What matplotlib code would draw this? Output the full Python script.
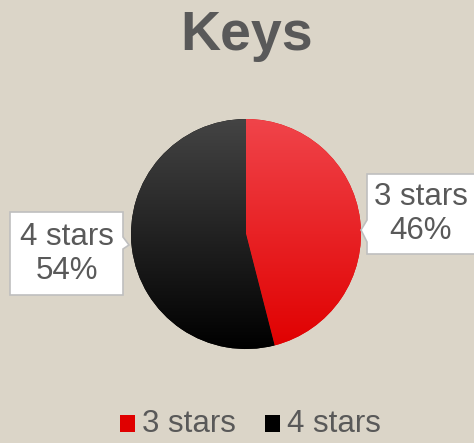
import numpy as np
import matplotlib
matplotlib.use("Agg")
import matplotlib.pyplot as plt
from matplotlib.colors import LinearSegmentedColormap
from matplotlib.patches import Polygon, Rectangle

plt.rcParams['font.family'] = ['Liberation Sans', 'DejaVu Sans']

title = "Keys"
labels = ["3 stars", "4 stars"]
values = [46, 54]
tops = ["#f0444a", "#444444"]
bottoms = ["#e00000", "#000000"]

W, H = 474, 443
bg = "#dbd5c8"
txt = "#595959"

fig = plt.figure(figsize=(W / 100, H / 100), dpi=100, facecolor=bg)
ax = fig.add_axes([0, 0, 1, 1])

cx, cy, r = 246, H - 234, 115
wedges, _ = ax.pie(values, startangle=90, counterclock=False,
                   center=(cx, cy), radius=r, frame=True,
                   wedgeprops=dict(linewidth=0))
ax.set_xlim(0, W)
ax.set_ylim(0, H)
ax.set_aspect('equal')
ax.axis('off')


def grad(target, top, bottom, ext):
    cmap = LinearSegmentedColormap.from_list("g", [bottom, top])
    im = ax.imshow(np.linspace(0, 1, 256).reshape(-1, 1), cmap=cmap,
                   extent=ext, origin='lower', aspect='auto', zorder=3)
    im.set_clip_path(target)


for w, t, b in zip(wedges, tops, bottoms):
    w.set_facecolor(b)
    grad(w, t, b, (cx - r, cx + r, cy - r, cy + r))

ax.set_xlim(0, W)
ax.set_ylim(0, H)

fig.text(0.52, 1 - 36 / H, title, ha='center', va='center', fontsize=40,
         fontweight='bold', color=txt)


def callout(pts, tx, ty, s):
    poly = Polygon([(x, H - y) for x, y in pts], closed=True, facecolor='white',
                   edgecolor='#bfbfbf', linewidth=1.2, zorder=5)
    ax.add_patch(poly)
    ax.text(tx, H - ty, s, ha='center', va='center', fontsize=22.5,
            color=txt, zorder=6, linespacing=1.15)


pct = [f"{v}%" for v in values]
# right label (3 stars)
callout([(367, 174), (480, 174), (480, 254), (367, 254), (367, 242),
         (361, 230), (367, 220)], 421, 214, f"{labels[0]}\n{pct[0]}")
# left label (4 stars)
callout([(10, 212), (123, 212), (123, 237), (129, 245), (123, 249),
         (123, 295), (10, 295)], 67, 254, f"{labels[1]}\n{pct[1]}")

# legend
lx = [120, 265]
for x0, lab, t, b in zip(lx, labels, tops, bottoms):
    sq = Rectangle((x0, H - 432), 15, 17, facecolor=b, linewidth=0, zorder=4)
    ax.add_patch(sq)
    grad(sq, t, b, (x0, x0 + 15, H - 432, H - 415))
    ax.text(x0 + 22, H - 424, lab, ha='left', va='center', fontsize=22.5,
            color=txt)

fig.savefig("out.png", dpi=100, facecolor=bg)
